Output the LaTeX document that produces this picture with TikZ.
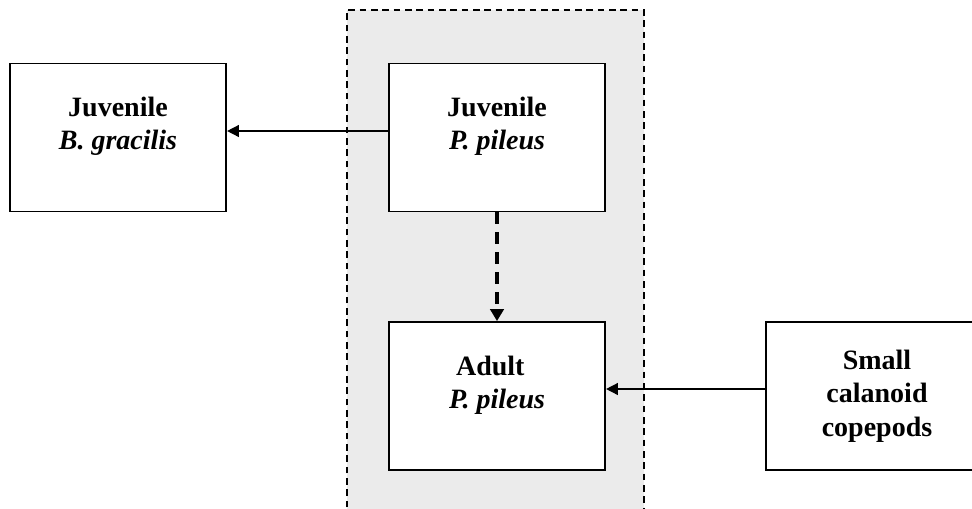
\documentclass[tikz,border=0pt]{standalone}
\usepackage{fontspec}
\setmainfont{Liberation Serif}
\usetikzlibrary{arrows.meta, positioning}

\tikzset{
  species/.style={draw, line width=1.3pt, fill=white, minimum width=162pt, minimum height=111pt,
    align=center, font=\fontsize{21}{25}\selectfont\bfseries, inner sep=0pt},
  feeds/.style={line width=2.1pt, -{Triangle[length=9pt, width=8.5pt]}},
  grows/.style={line width=2.5pt, dash pattern=on 9pt off 6pt, -{Triangle[length=9pt, width=10pt]}}
}

\begin{document}
\begin{tikzpicture}[x=0.75pt, y=-0.75pt]
  \useasboundingbox (0,0) rectangle (972,508);

  % Pleurobrachia region
  \draw[fill=black!8, line width=1.1pt, dash pattern=on 5pt off 3.5pt] (347,530) |- (644,10) -- (644,530);

  % Boxes
  \node[species] (gracilis) at (118,137.5) {Juvenile\\ \textit{B. gracilis}\\[-4pt]};
  \node[species] (juvpileus) at (497,137.5) {Juvenile\\ \textit{P. pileus}\\[-4pt]};
  \node[species] (adultpileus) at (497,396) {Adult\hspace*{10pt}\\ \textit{P. pileus}\hspace*{4pt}\\[-4pt]};
  \node[species, minimum width=166pt] (copepods) at (877,396) {Small\\ calanoid\\ copepods};

  % Links
  \draw[feeds] (juvpileus.west |- 0,131) -- (gracilis.east |- 0,131);
  \draw[grows] (juvpileus.south) -- (adultpileus.north);
  \draw[feeds] (copepods.west |- 0,389) -- (adultpileus.east |- 0,389);
\end{tikzpicture}
\end{document}
